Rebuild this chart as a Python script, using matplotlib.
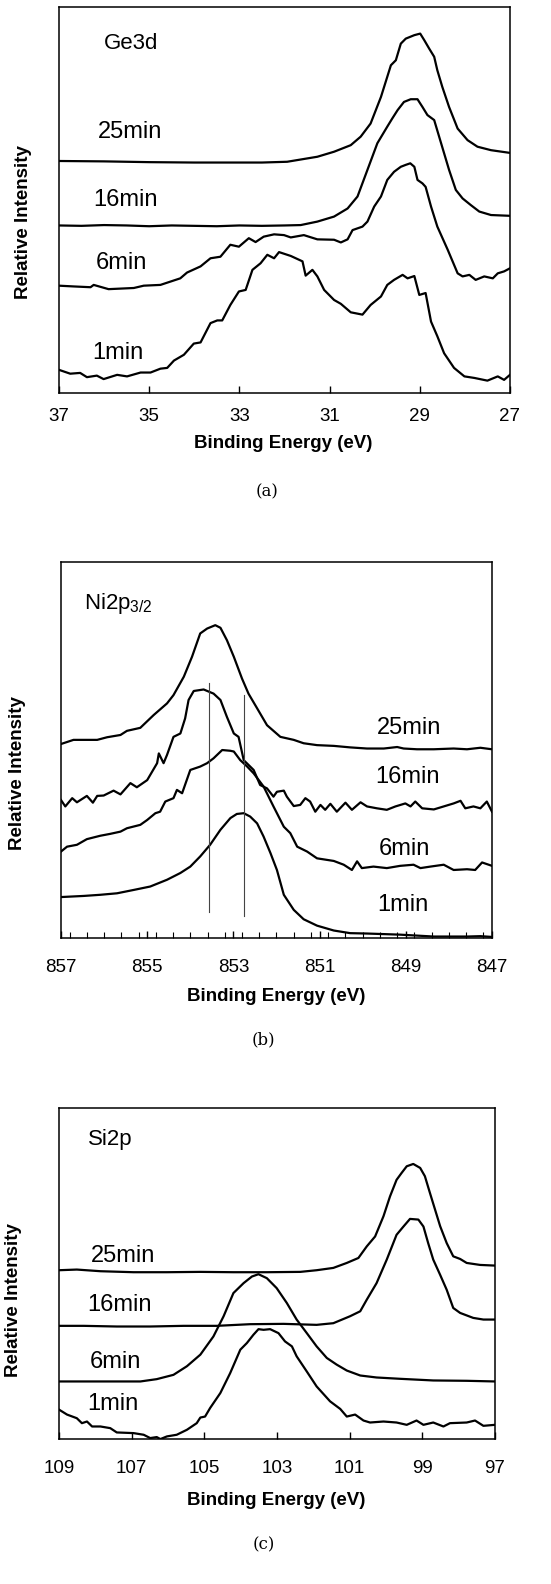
import numpy as np
import matplotlib
matplotlib.use("Agg")
import matplotlib.pyplot as plt
from matplotlib.ticker import MultipleLocator

plt.rcParams['font.family'] = ['Liberation Sans', 'DejaVu Sans']

# ---------------- (a) Ge3d ----------------
ge_x_25 = [37, 36, 35, 34, 33, 32.5, 31.94, 31.27, 30.90, 30.53, 30.31, 30.09, 29.86, 29.64, 29.53,
           29.42, 29.31, 29.12, 28.99, 28.90, 28.79, 28.68, 28.61, 28.50, 28.35, 28.16, 27.94, 27.72, 27.42, 27.0]
ge_y_25 = [60.1, 60.0, 59.8, 59.7, 59.7, 59.7, 59.9, 61.2, 62.5, 64.2, 66.4, 69.8, 76.7, 84.9, 86.2,
           90.5, 91.8, 92.7, 93.1, 91.4, 89.2, 87.1, 83.6, 79.3, 74.1, 68.5, 65.5, 63.8, 62.9, 62.2]

ge_x_16 = [37, 36.5, 36, 35.5, 35, 34.5, 34, 33.5, 33, 32.5, 32, 31.64, 31.27, 30.90, 30.60, 30.38, 30.16, 29.94,
           29.72, 29.61, 29.49, 29.35, 29.20, 29.05, 28.94, 28.83, 28.68, 28.57, 28.46, 28.35, 28.20, 28.05,
           27.87, 27.68, 27.42, 27.0]
ge_y_16 = [43.4, 43.3, 43.5, 43.4, 43.2, 43.4, 43.3, 43.2, 43.4, 43.3, 43.4, 43.5, 44.4, 45.7, 47.8, 50.9, 57.8, 64.7,
           69.0, 71.1, 73.3, 75.4, 76.1, 76.1, 74.1, 72.0, 70.7, 66.4, 62.1, 57.8, 52.6, 50.4,
           48.7, 47.0, 46.1, 45.9]

ge_x_6 = [37, 36.67, 36.30, 36.23, 35.90, 35.34, 35.12, 34.75, 34.31, 34.16, 33.86, 33.64, 33.42, 33.20, 33.01,
          32.79, 32.64, 32.46, 32.23, 32.01, 31.86, 31.57, 31.27, 30.90, 30.75, 30.60, 30.49, 30.27, 30.16, 30.01,
          29.86, 29.72, 29.57, 29.42, 29.31, 29.21, 29.12, 29.05, 28.94, 28.87, 28.75, 28.61, 28.38, 28.16, 28.05,
          27.90, 27.76, 27.57, 27.38, 27.27, 27.13, 27.0]
ge_y_6 = [27.8, 27.6, 27.4, 28.0, 26.9, 27.2, 27.8, 28.0, 29.7, 31.2, 32.8, 34.9, 35.3, 38.4, 37.9,
          40.1, 39.1, 40.5, 41.1, 40.9, 40.3, 40.9, 39.8, 39.7, 39.0, 39.8, 42.2, 43.1, 44.4, 48.3,
          50.9, 55.2, 57.3, 58.6, 59.1, 59.5, 58.6, 55.2, 54.3, 53.4, 48.3, 43.1, 37.1, 31.0, 30.2,
          30.6, 29.3, 30.2, 29.7, 31.0, 31.5, 32.3]

ge_x_1 = [37, 36.75, 36.53, 36.38, 36.16, 36.01, 35.71, 35.49, 35.19, 34.97, 34.75, 34.60, 34.45, 34.23, 34.01,
          33.86, 33.64, 33.49, 33.38, 33.20, 33.01, 32.86, 32.71, 32.53, 32.38, 32.23, 32.12, 31.86, 31.60, 31.53,
          31.38, 31.27, 31.12, 30.90, 30.75, 30.53, 30.27, 30.09, 29.86, 29.72, 29.57, 29.38, 29.27, 29.12, 29.01,
          28.87, 28.75, 28.61, 28.46, 28.24, 28.01, 27.79, 27.50, 27.27, 27.13, 27.0]
ge_y_1 = [6.0, 5.0, 5.2, 4.1, 4.5, 3.6, 4.7, 4.3, 5.3, 5.3, 6.3, 6.5, 8.4, 9.9, 12.8,
          13.1, 18.1, 18.8, 18.8, 22.8, 26.3, 26.7, 31.9, 33.6, 35.8, 34.9, 36.5, 35.5, 34.1, 30.4,
          31.9, 30.2, 26.7, 24.1, 23.1, 20.9, 20.3, 22.8, 25.0, 28.0, 29.3, 30.6, 29.7, 30.3, 25.4,
          25.9, 18.5, 14.7, 10.3, 6.5, 4.3, 3.9, 3.2, 4.3, 3.4, 4.7]

# ---------------- (b) Ni2p3/2 ----------------
ni_x_25 = [857, 856.71, 856.16, 855.93, 855.62, 855.47, 855.16, 854.85, 854.54, 854.39, 854.15, 853.96, 853.77,
           853.61, 853.42, 853.30, 853.15, 852.99, 852.80, 852.65, 852.45, 852.22, 851.91, 851.60, 851.37,
           851.06, 850.67, 850.29, 849.90, 849.51, 849.20, 849.05, 848.74, 848.35, 847.89, 847.58, 847.27, 847.0]
ni_y_25 = [51.6, 52.7, 52.7, 53.4, 54.0, 55.1, 55.9, 59.3, 62.4, 64.6, 69.5, 74.8, 81.0,
           82.3, 83.2, 82.5, 79.2, 74.8, 69.0, 65.0, 61.1, 56.6, 53.5, 52.7, 51.8,
           51.3, 51.1, 50.7, 50.4, 50.4, 50.8, 50.4, 50.2, 50.2, 50.4, 50.2, 50.6, 50.2]

ni_x_16 = [857, 856.90, 856.74, 856.63, 856.40, 856.26, 856.16, 856.01, 855.78, 855.62, 855.39, 855.24, 855.00,
           854.77, 854.73, 854.62, 854.54, 854.39, 854.23, 854.12, 854.04, 853.92, 853.69, 853.46, 853.30,
           853.15, 852.99, 852.88, 852.76, 852.53, 852.38, 852.22, 852.07, 851.99, 851.83, 851.76, 851.60,
           851.45, 851.33, 851.22, 851.10, 850.98, 850.87, 850.75, 850.60, 850.40, 850.25, 850.05, 849.90,
           849.67, 849.44, 849.24, 849.01, 848.89, 848.78, 848.62, 848.35, 848.12, 847.89, 847.73, 847.62,
           847.43, 847.27, 847.12, 847.0]
ni_y_16 = [36.7, 35.0, 37.2, 36.1, 37.8, 36.0, 37.8, 37.9, 39.2, 38.2, 41.2, 40.1, 42.0,
           46.5, 49.1, 46.5, 48.7, 53.5, 54.4, 58.4, 63.3, 65.7, 66.1, 65.0, 63.3,
           58.8, 54.4, 53.5, 47.3, 44.7, 40.7, 39.8, 37.6, 38.9, 39.2, 37.6, 35.1,
           35.4, 37.2, 36.3, 33.6, 35.4, 34.1, 35.7, 33.6, 36.0, 34.1, 36.1, 35.0,
           34.5, 34.1, 35.0, 35.8, 35.0, 36.3, 34.5, 34.2, 35.0, 35.8, 36.5, 34.5,
           35.0, 34.5, 36.3, 33.6]

ni_x_6 = [857, 856.86, 856.63, 856.40, 856.09, 855.86, 855.62, 855.47, 855.16, 855.00, 854.81, 854.70, 854.58,
          854.39, 854.31, 854.19, 854.00, 853.77, 853.61, 853.46, 853.26, 853.07, 852.99, 852.84, 852.68,
          852.53, 852.30, 852.07, 851.83, 851.68, 851.52, 851.29, 851.06, 850.67, 850.44, 850.25, 850.13,
          850.02, 849.75, 849.44, 849.13, 848.82, 848.66, 848.43, 848.12, 847.89, 847.58, 847.39, 847.23, 847.0]
ni_y_6 = [23.0, 24.3, 24.8, 26.3, 27.2, 27.7, 28.3, 29.2, 30.1, 31.4, 33.2, 33.6, 36.3,
          37.2, 39.4, 38.5, 44.7, 45.6, 46.5, 47.8, 50.0, 49.8, 49.6, 47.3, 45.6,
          43.8, 40.3, 35.0, 29.6, 27.9, 24.3, 23.0, 21.2, 20.5, 19.5, 18.1, 20.4,
          18.6, 19.0, 18.6, 19.2, 19.5, 18.6, 19.0, 19.5, 18.1, 18.3, 18.1, 20.1, 19.2]

ni_x_1 = [857, 856.47, 856.09, 855.70, 855.31, 854.93, 854.54, 854.23, 854.00, 853.77, 853.54, 853.30, 853.07,
          852.92, 852.76, 852.61, 852.45, 852.30, 852.14, 851.99, 851.83, 851.60, 851.37, 851.06, 850.67,
          850.29, 849.90, 849.13, 848.35, 847.58, 847.27, 847.0]
ni_y_1 = [10.9, 11.2, 11.5, 11.9, 12.8, 13.7, 15.5, 17.3, 19.0, 21.7, 24.8, 28.8, 31.9,
          33.0, 33.2, 32.3, 30.5, 27.0, 22.6, 18.1, 11.5, 7.5, 5.0, 3.3, 2.0,
          1.3, 1.2, 0.9, 0.4, 0.4, 0.5, 0.3]

# reference lines (peak positions)
ni_lines_x = [853.56, 852.75]
ni_lines_top = [67.7, 64.6]
ni_lines_bot = [6.9, 5.9]

# ---------------- (c) Si2p ----------------
si_x_25 = [109, 108.51, 107.86, 106.95, 106.03, 105.11, 104.20, 103.28, 102.36, 101.91, 101.45, 101.08, 100.76,
           100.53, 100.30, 100.07, 99.89, 99.71, 99.57, 99.43, 99.25, 99.06, 98.93, 98.79, 98.65, 98.51,
           98.33, 98.15, 97.96, 97.78, 97.41, 97.0]
si_y_25 = [51.0, 51.2, 50.7, 50.4, 50.4, 50.5, 50.4, 50.4, 50.5, 51.0, 51.7, 53.2, 54.7,
           58.2, 61.2, 67.3, 73.3, 78.3, 80.4, 82.4, 83.1, 81.9, 79.4, 74.3, 69.3, 64.3,
           59.2, 55.2, 54.4, 53.2, 52.6, 52.4]

si_x_16 = [109, 108.32, 107.41, 106.49, 105.57, 104.66, 103.74, 102.82, 101.91, 101.45, 100.99, 100.71, 100.53,
           100.26, 99.98, 99.71, 99.52, 99.34, 99.11, 98.97, 98.84, 98.70, 98.51, 98.33, 98.15, 97.96,
           97.60, 97.32, 97.0]
si_y_16 = [34.2, 34.2, 34.0, 34.0, 34.2, 34.2, 34.7, 34.8, 34.5, 35.0, 37.1, 38.6, 42.1,
           47.1, 54.2, 61.7, 64.2, 66.5, 66.3, 64.2, 59.2, 54.2, 49.6, 45.1, 39.6, 38.1,
           36.6, 36.1, 36.1]

si_x_6 = [109, 107.86, 106.76, 106.31, 105.85, 105.48, 105.11, 104.75, 104.47, 104.20, 103.92, 103.69, 103.51,
          103.28, 103.01, 102.73, 102.46, 102.18, 101.91, 101.63, 101.36, 101.08, 100.71, 100.26, 99.61,
          98.70, 97.78, 97.0]
si_y_6 = [17.4, 17.4, 17.4, 18.1, 19.4, 22.0, 25.5, 31.0, 37.1, 44.1, 47.1, 49.1, 49.8,
          48.6, 45.6, 41.1, 36.1, 32.0, 28.0, 24.5, 22.5, 20.7, 19.2, 18.6, 18.2,
          17.7, 17.6, 17.4]

si_x_1 = [109, 108.78, 108.51, 108.37, 108.23, 108.09, 107.86, 107.59, 107.41, 106.95, 106.67, 106.49, 106.31,
          106.21, 106.03, 105.76, 105.48, 105.21, 105.11, 104.98, 104.84, 104.56, 104.29, 104.01, 103.83,
          103.65, 103.51, 103.37, 103.19, 102.96, 102.78, 102.59, 102.46, 102.18, 101.91, 101.54, 101.26,
          101.08, 100.85, 100.62, 100.44, 100.07, 99.71, 99.43, 99.16, 98.97, 98.70, 98.42, 98.24, 97.78,
          97.55, 97.32, 97.0]
si_y_1 = [8.9, 7.4, 6.3, 4.8, 5.3, 3.8, 3.8, 3.3, 2.0, 1.8, 1.3, 0.3, 0.6,
          0.0, 0.8, 1.3, 2.8, 4.8, 6.5, 6.8, 9.4, 13.9, 19.9, 27.0, 29.0,
          31.5, 33.2, 33.0, 33.2, 32.0, 29.5, 28.0, 25.0, 20.4, 15.9, 11.4, 9.1,
          6.8, 7.4, 5.6, 5.0, 5.3, 5.0, 4.3, 5.6, 4.3, 5.0, 3.8, 4.8, 5.0,
          5.6, 4.0, 4.3]

time_labels = ["25min", "16min", "6min", "1min"]

# label positions (x in eV, y in relative intensity)
ge_label_x = [36.14, 36.23, 36.19, 36.27]
ge_label_y = [67.7, 50.0, 33.6, 10.3]
ni_label_x = [849.67, 849.71, 849.63, 849.67]
ni_label_y = [55.9, 42.9, 23.6, 8.8]
si_label_x = [108.12, 108.21, 108.16, 108.21]
si_label_y = [55.2, 40.6, 23.3, 10.7]


def draw_panel(ax, curves, xlim, ticks, title, title_xy, lab_x, lab_y, pad):
    for x, y in curves:
        ax.plot(x, y, color='black', lw=1.6, solid_joinstyle='round')
    ax.set_xlim(xlim)
    ax.set_ylim(0, 100)
    ax.set_xticks(ticks)
    ax.set_yticks([])
    ax.tick_params(axis='x', direction='in', length=5, width=1, labelsize=13.5, pad=pad)
    for s in ax.spines.values():
        s.set_linewidth(1.1)
    ax.text(title_xy[0], title_xy[1], title, fontsize=16, va='center', ha='left')
    for t, lx, ly in zip(time_labels, lab_x, lab_y):
        ax.text(lx, ly, t, fontsize=17, va='center', ha='left')


fig = plt.figure(figsize=(5.51, 15.84), dpi=100)

# (a)
ax1 = fig.add_axes([0.107, 0.7519, 0.8185, 0.2437])
draw_panel(ax1, [(ge_x_25, ge_y_25), (ge_x_16, ge_y_16), (ge_x_6, ge_y_6), (ge_x_1, ge_y_1)],
           (37, 27), [37, 35, 33, 31, 29, 27], "Ge3d", (36.0, 90.5), ge_label_x, ge_label_y, 11)
fig.text(0.514, 0.7203, "Binding Energy (eV)", fontsize=13.5, fontweight='bold', ha='center', va='center')
fig.text(0.042, 0.86, "Relative Intensity", fontsize=13.5, fontweight='bold', rotation=90, ha='center', va='center')
fig.text(0.484, 0.6894, "(a)", family='DejaVu Serif', fontsize=12, ha='center', va='center')

# (b)
ax2 = fig.add_axes([0.1107, 0.4078, 0.7822, 0.2374])
draw_panel(ax2, [(ni_x_25, ni_y_25), (ni_x_16, ni_y_16), (ni_x_6, ni_y_6), (ni_x_1, ni_y_1)],
           (857, 847), [857, 855, 853, 851, 849, 847], r"Ni2p$_{\mathregular{3/2}}$", (856.47, 88.9),
           ni_label_x, ni_label_y, 15)
ax2.xaxis.set_minor_locator(MultipleLocator(0.4))
ax2.tick_params(axis='x', which='minor', direction='in', length=4, width=0.8)
for lx, yt, yb in zip(ni_lines_x, ni_lines_top, ni_lines_bot):
    ax2.plot([lx, lx], [yb, yt], color='#444444', lw=0.8)
fig.text(0.502, 0.3706, "Binding Energy (eV)", fontsize=13.5, fontweight='bold', ha='center', va='center')
fig.text(0.031, 0.512, "Relative Intensity", fontsize=13.5, fontweight='bold', rotation=90, ha='center', va='center')
fig.text(0.478, 0.3434, "(b)", family='DejaVu Serif', fontsize=12, ha='center', va='center')

# (c)
ax3 = fig.add_axes([0.1071, 0.0915, 0.7913, 0.2090])
draw_panel(ax3, [(si_x_25, si_y_25), (si_x_16, si_y_16), (si_x_6, si_y_6), (si_x_1, si_y_1)],
           (109, 97), [109, 107, 105, 103, 101, 99, 97], "Si2p", (108.21, 90.4), si_label_x, si_label_y, 15)
fig.text(0.502, 0.053, "Binding Energy (eV)", fontsize=13.5, fontweight='bold', ha='center', va='center')
fig.text(0.024, 0.179, "Relative Intensity", fontsize=13.5, fontweight='bold', rotation=90, ha='center', va='center')
fig.text(0.478, 0.0246, "(c)", family='DejaVu Serif', fontsize=12, ha='center', va='center')

fig.savefig("out.png", dpi=100)
